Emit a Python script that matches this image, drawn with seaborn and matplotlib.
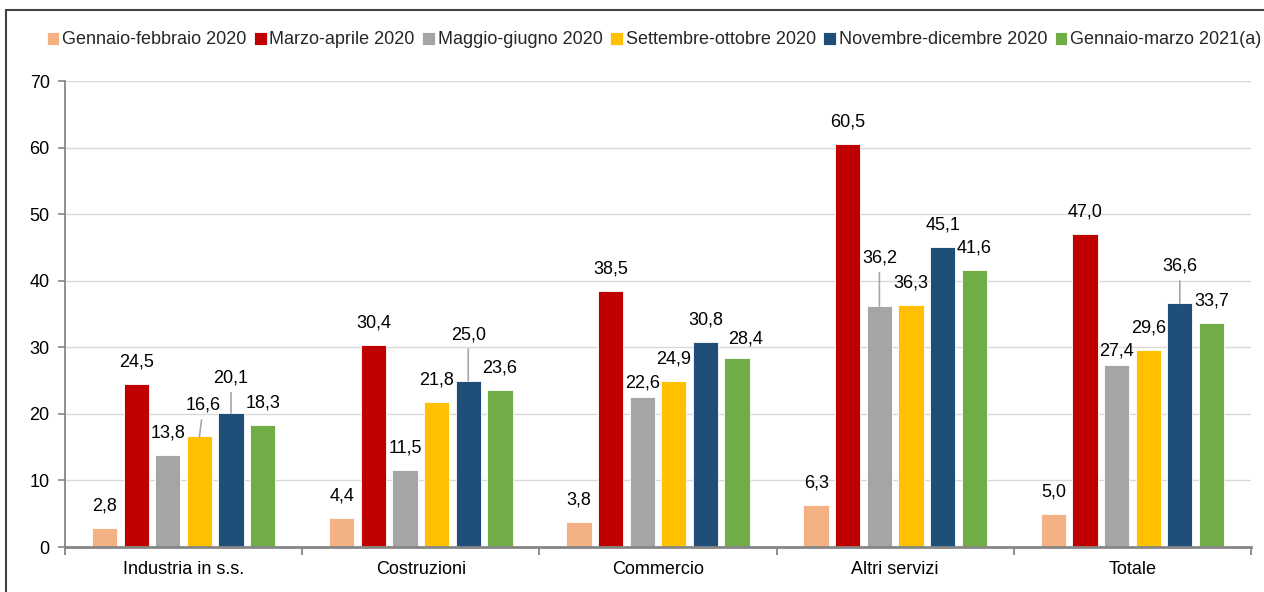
import matplotlib
matplotlib.use("Agg")
import matplotlib.pyplot as plt
import seaborn as sns
import pandas as pd
from matplotlib.patches import Rectangle
from matplotlib.ticker import FixedLocator

categories = ["Industria in s.s.", "Costruzioni", "Commercio", "Altri servizi", "Totale"]
periods = ["Gennaio-febbraio 2020", "Marzo-aprile 2020", "Maggio-giugno 2020",
           "Settembre-ottobre 2020", "Novembre-dicembre 2020", "Gennaio-marzo 2021(a)"]
gen_feb_2020 = [2.8, 4.4, 3.8, 6.3, 5.0]
mar_apr_2020 = [24.5, 30.4, 38.5, 60.5, 47.0]
mag_giu_2020 = [13.8, 11.5, 22.6, 36.2, 27.4]
set_ott_2020 = [16.6, 21.8, 24.9, 36.3, 29.6]
nov_dic_2020 = [20.1, 25.0, 30.8, 45.1, 36.6]
gen_mar_2021 = [18.3, 23.6, 28.4, 41.6, 33.7]
series = [gen_feb_2020, mar_apr_2020, mag_giu_2020, set_ott_2020, nov_dic_2020, gen_mar_2021]
colors = ["#F4B183", "#C00000", "#A5A5A5", "#FFC000", "#1F4E79", "#70AD47"]
y_ticks = [0, 10, 20, 30, 40, 50, 60, 70]

rows = []
for p, vals in zip(periods, series):
    for c, v in zip(categories, vals):
        rows.append({"cat": c, "period": p, "val": v})
df = pd.DataFrame(rows)

sns.set_theme(style="white")
plt.rcParams["font.family"] = ["Liberation Sans", "DejaVu Sans"]

FS = 13
W, H = 1264, 592
fig = plt.figure(figsize=(W / 100, H / 100), dpi=100)
ax = fig.add_axes([65 / W, 1 - 547 / H, (1251 - 65) / W, (547 - 81) / H])

sns.barplot(data=df, x="cat", y="val", hue="period", order=categories,
            hue_order=periods, palette=colors, saturation=1, width=0.8, gap=0.2,
            edgecolor="white", linewidth=0.6, ax=ax, legend=True)

handles, labels = ax.get_legend_handles_labels()
ax.get_legend().remove()

ax.set_xlim(-0.5, 4.5)
ax.set_ylim(0, 70)
ax.set_yticks(y_ticks)
ax.set_xlabel("")
ax.set_ylabel("")
ax.grid(axis="y", color="#D9D9D9", linewidth=1)
ax.set_axisbelow(True)
for s in ["top", "right"]:
    ax.spines[s].set_visible(False)
ax.spines["left"].set_color("#868686")
ax.spines["left"].set_linewidth(1.3)
ax.spines["bottom"].set_color("#868686")
ax.spines["bottom"].set_linewidth(2.0)
ax.tick_params(axis="y", which="major", length=5, width=1.2, color="#868686",
               direction="out", left=True, labelsize=FS, pad=6, labelcolor="#000000")
ax.tick_params(axis="x", which="major", length=0, labelsize=FS, pad=10, labelcolor="#000000")
ax.xaxis.set_minor_locator(FixedLocator([-0.5, 0.5, 1.5, 2.5, 3.5, 4.5]))
ax.tick_params(axis="x", which="minor", length=6, width=1.3, color="#868686",
               direction="out", bottom=True)

# label placement tweaks (pixels): (cat index, series index) -> (dx, dy, leader)
label_tweaks = {
    (0, 3): (4, 31, True),
    (0, 4): (0, 35, True),
    (1, 4): (0, 46, True),
    (2, 2): (0, 14, False),
    (2, 5): (8, 19, False),
    (3, 2): (0, 48, True),
    (4, 2): (0, 14, False),
    (4, 4): (0, 37, True),
}

for si, cont in enumerate(ax.containers):
    for ci, bar in enumerate(cont.patches):
        h = bar.get_height()
        xc = bar.get_x() + bar.get_width() / 2
        dx, dy, leader = label_tweaks.get((ci, si), (0, 22, False))
        txt = f"{h:.1f}".replace(".", ",")
        if leader:
            ax.annotate(txt, xy=(xc, h), xytext=(dx, dy), textcoords="offset pixels",
                        ha="center", va="center", fontsize=FS, color="#000000",
                        arrowprops=dict(arrowstyle="-", color="#A6A6A6", lw=1.2,
                                        shrinkA=2, shrinkB=0))
        else:
            ax.annotate(txt, xy=(xc, h), xytext=(dx, dy), textcoords="offset pixels",
                        ha="center", va="center", fontsize=FS, color="#000000")

fig.legend(handles, labels, loc="center", bbox_to_anchor=(654 / W, 1 - 40 / H),
           ncol=6, frameon=False, fontsize=FS, handlelength=0.7, handleheight=0.7,
           handletextpad=0.15, columnspacing=0.42, borderaxespad=0, borderpad=0)

fig.patches.append(Rectangle((6 / W, -0.2), 2, 1.2 - 10 / H, transform=fig.transFigure,
                             fill=False, edgecolor="#404040", linewidth=1.5))

fig.savefig("out.png", dpi=100)
